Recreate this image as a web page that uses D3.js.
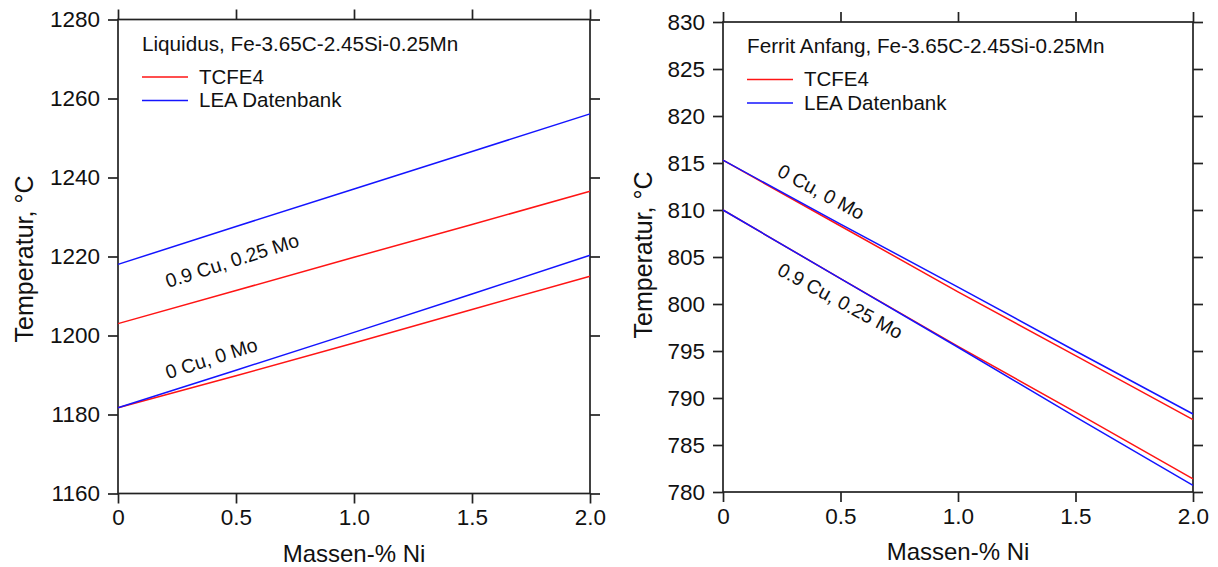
<!DOCTYPE html>
<html>
<head>
<meta charset="utf-8">
<script src="https://cdn.jsdelivr.net/npm/d3@7"></script>
<style>
  body { margin: 0; background: #fff; }
  svg { font-family: "Liberation Sans", Arial, sans-serif; }
</style>
</head>
<body>
<div id="chart"></div>
<script>
'use strict';

// x values (mass-% Ni)
let ni = [0, 0.5, 1.0, 1.5, 2.0];

// Liquidus panel
let liqLea09 = [1218, 1227.6, 1237.1, 1246.6, 1256.1];
let liqTc09 = [1203, 1211.4, 1219.8, 1228.1, 1236.5];
let liqLea0 = [1181.7, 1191.2, 1200.8, 1210.5, 1220.3];
let liqTc0 = [1181.7, 1189.8, 1198.1, 1206.6, 1215.0];

// Ferrit Anfang panel
let ferLea0 = [815.3, 808.5, 801.8, 795.0, 788.3];
let ferTc0 = [815.3, 808.3, 801.3, 794.5, 787.7];
let ferLea09 = [810.0, 802.7, 795.4, 788.0, 780.7];
let ferTc09 = [810.0, 802.7, 795.5, 788.5, 781.4];

let xTicks = [0, 0.5, 1.0, 1.5, 2.0];
let liqTicks = [1160, 1180, 1200, 1220, 1240, 1260, 1280];
let ferTicks = [780, 785, 790, 795, 800, 805, 810, 815, 820, 825, 830];

let width = 1218, height = 567;
let red = "#ff1414", blue = "#1414ff", ink = "#222";

let svg = d3.select("#chart").append("svg")
    .attr("width", width)
    .attr("height", height);

function panel(opts) {
    let x = d3.scaleLinear().domain([0, 2]).range([opts.left, opts.right]);
    let y = d3.scaleLinear().domain(opts.ydomain).range([opts.bottom, opts.top]);
    let g = svg.append("g");

    // box
    g.append("rect")
        .attr("x", opts.left).attr("y", opts.top)
        .attr("width", opts.right - opts.left).attr("height", opts.bottom - opts.top)
        .attr("fill", "none").attr("stroke", ink).attr("stroke-width", 1.7);

    let fmtX = function(d) { return d === 0 ? "0" : d3.format(".1f")(d); };

    let axB = g.append("g").attr("transform", "translate(0," + opts.bottom + ")")
        .call(d3.axisBottom(x).tickValues(xTicks).tickFormat(fmtX).tickSize(10).tickPadding(6));
    let axT = g.append("g").attr("transform", "translate(0," + opts.top + ")")
        .call(d3.axisTop(x).tickValues(xTicks).tickFormat("").tickSize(10));
    let axL = g.append("g").attr("transform", "translate(" + opts.left + ",0)")
        .call(d3.axisLeft(y).tickValues(opts.yticks).tickFormat(d3.format("d")).tickSize(10).tickPadding(8));
    let axR = g.append("g").attr("transform", "translate(" + opts.right + ",0)")
        .call(d3.axisRight(y).tickValues(opts.yticks).tickFormat("").tickSize(10));

    [axB, axT, axL, axR].forEach(function(a) {
        a.select(".domain").remove();
        a.selectAll(".tick line").attr("stroke", ink).attr("stroke-width", 1.7);
        a.selectAll(".tick text").attr("fill", "#111")
            .style("font-size", "22.5px").style("font-family", "Liberation Sans, Arial, sans-serif");
    });

    let line = d3.line()
        .x(function(d) { return x(d[0]); })
        .y(function(d) { return y(d[1]); });

    opts.series.forEach(function(s) {
        g.append("path")
            .datum(ni.map(function(v, i) { return [v, s.values[i]]; }))
            .attr("d", line)
            .attr("fill", "none")
            .attr("stroke", s.color)
            .attr("stroke-width", 1.5);
    });

    // legend block
    g.append("text")
        .attr("x", opts.left + 24).attr("y", opts.top + 31)
        .style("font-size", "20.7px").attr("fill", "#111")
        .text(opts.title);
    [[red, "TCFE4"], [blue, "LEA Datenbank"]].forEach(function(l, i) {
        let yy = opts.top + 57.5 + i * 23.5;
        g.append("line")
            .attr("x1", opts.left + 24).attr("x2", opts.left + 70)
            .attr("y1", yy).attr("y2", yy)
            .attr("stroke", l[0]).attr("stroke-width", 1.5);
        g.append("text")
            .attr("x", opts.left + 81).attr("y", yy + 6.5)
            .style("font-size", "20.5px").attr("fill", "#111")
            .text(l[1]);
    });

    // curve labels
    opts.labels.forEach(function(lb) {
        let px = x(lb.x), py = y(lb.t);
        g.append("text")
            .attr("transform", "translate(" + px + "," + py + ")rotate(" + lb.rot + ")")
            .style("font-size", "19.5px").attr("fill", "#111")
            .text(lb.text);
    });

    // axis titles
    g.append("text")
        .attr("x", (opts.left + opts.right) / 2).attr("y", opts.bottom + 68)
        .attr("text-anchor", "middle")
        .style("font-size", "24px").attr("fill", "#111")
        .text("Massen-% Ni");
    g.append("text")
        .attr("transform", "translate(" + opts.ylabelX + "," + opts.ylabelY + ")rotate(-90)")
        .attr("text-anchor", "middle")
        .style("font-size", "25px").attr("fill", "#111")
        .text("Temperatur, \u00b0C");
}

panel({
    left: 118, right: 590, top: 19.5, bottom: 493.5,
    ydomain: [1160, 1280], yticks: liqTicks,
    title: "Liquidus, Fe-3.65C-2.45Si-0.25Mn",
    ylabelX: 33, ylabelY: 259,
    series: [
        { values: liqTc09, color: red },
        { values: liqLea09, color: blue },
        { values: liqTc0, color: red },
        { values: liqLea0, color: blue }
    ],
    labels: [
        { text: "0.9 Cu, 0.25 Mo", x: 0.212, t: 1212.0, rot: -17.7 },
        { text: "0 Cu, 0 Mo", x: 0.212, t: 1188.9, rot: -17.7 }
    ]
});

panel({
    left: 723, right: 1193, top: 22, bottom: 492,
    ydomain: [780, 830], yticks: ferTicks,
    title: "Ferrit Anfang, Fe-3.65C-2.45Si-0.25Mn",
    ylabelX: 652, ylabelY: 255,
    series: [
        { values: ferTc0, color: red },
        { values: ferLea0, color: blue },
        { values: ferTc09, color: red },
        { values: ferLea09, color: blue }
    ],
    labels: [
        { text: "0 Cu, 0 Mo", x: 0.225, t: 813.7, rot: 28.3 },
        { text: "0.9 Cu, 0.25 Mo", x: 0.225, t: 803.2, rot: 28.3 }
    ]
});
</script>
</body>
</html>
